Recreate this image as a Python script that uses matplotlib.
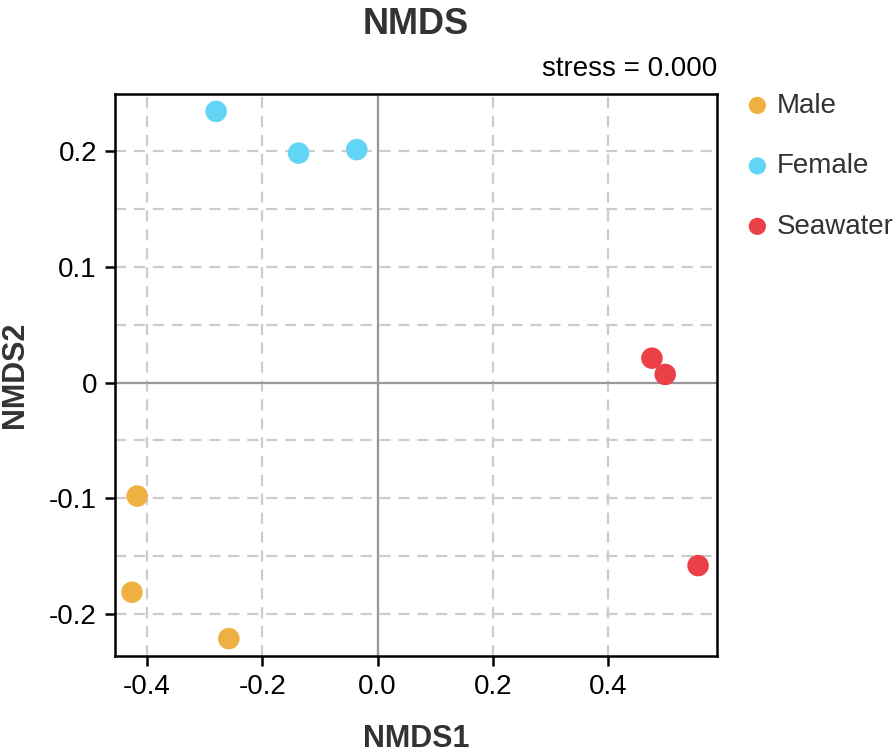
import numpy as np
import matplotlib
matplotlib.use("Agg")
import matplotlib.pyplot as plt
from matplotlib.ticker import FixedLocator

plt.rcParams['font.family'] = ['Liberation Sans', 'DejaVu Sans']
plt.rcParams['axes.unicode_minus'] = False

# NMDS coordinates
groups = ['Male', 'Female', 'Seawater']
colors = ['#EEB041', '#62D4F6', '#EC4049']
nmds1 = {
    'Male': [-0.417, -0.426, -0.258],
    'Female': [-0.280, -0.137, -0.036],
    'Seawater': [0.476, 0.499, 0.556],
}
nmds2 = {
    'Male': [-0.098, -0.181, -0.221],
    'Female': [0.234, 0.198, 0.201],
    'Seawater': [0.021, 0.007, -0.158],
}
x_ticks = [-0.4, -0.2, 0.0, 0.2, 0.4]
x_ticklabels = ['-0.4', '-0.2', '0.0', '0.2', '0.4']
y_ticks = [-0.2, -0.1, 0.0, 0.1, 0.2]
y_ticklabels = ['-0.2', '-0.1', '0', '0.1', '0.2']
stress = 0.000

fig = plt.figure(figsize=(8.96, 7.52), dpi=100)
ax = fig.add_axes([0.1283, 0.1277, 0.672, 0.7473])

ax.set_xlim(-0.4555, 0.589)
ax.set_ylim(-0.236, 0.249)

# grid: x every 0.2, y every 0.05
grid_kw = dict(color='#cccccc', linestyle=(0, (5, 3.5)), linewidth=1.6, zorder=0)
for xv in x_ticks:
    ax.axvline(xv, **grid_kw)
for yv in np.arange(-0.2, 0.25, 0.05):
    if abs(yv) > 1e-9:
        ax.axhline(yv, **grid_kw)
ax.axhline(0, color='#999999', linewidth=1.6, zorder=1)
ax.axvline(0, color='#999999', linewidth=1.6, zorder=1)

for g, c in zip(groups, colors):
    ax.scatter(nmds1[g], nmds2[g], s=240, color=c, edgecolors='none', label=g, zorder=3)

ax.xaxis.set_major_locator(FixedLocator(x_ticks))
ax.set_xticklabels(x_ticklabels)
ax.yaxis.set_major_locator(FixedLocator(y_ticks))
ax.set_yticklabels(y_ticklabels)
ax.tick_params(axis='both', direction='out', length=7, width=1.8, labelsize=20,
               colors='black', pad=6)
for sp in ax.spines.values():
    sp.set_linewidth(1.8)
    sp.set_color('black')

ax.set_xlabel('NMDS1', fontsize=22, fontweight='bold', color='#333333', labelpad=17)
ax.set_ylabel('NMDS2', fontsize=22, fontweight='bold', color='#333333', labelpad=14)
fig.text(0.4643, 0.968, 'NMDS', fontsize=26, fontweight='bold', color='#333333',
         ha='center', va='center')
ax.text(1.0, 1.022, 'stress = %.3f' % stress, transform=ax.transAxes, ha='right',
        va='bottom', fontsize=20, color='black')

leg = ax.legend(loc='upper left', bbox_to_anchor=(1.03, 1.022), frameon=False,
                fontsize=20, labelspacing=1.24, handlelength=0.8, handletextpad=0.3,
                markerscale=0.8, borderaxespad=0.0)
for t in leg.get_texts():
    t.set_color('#333333')

fig.savefig('out.png', dpi=100)
